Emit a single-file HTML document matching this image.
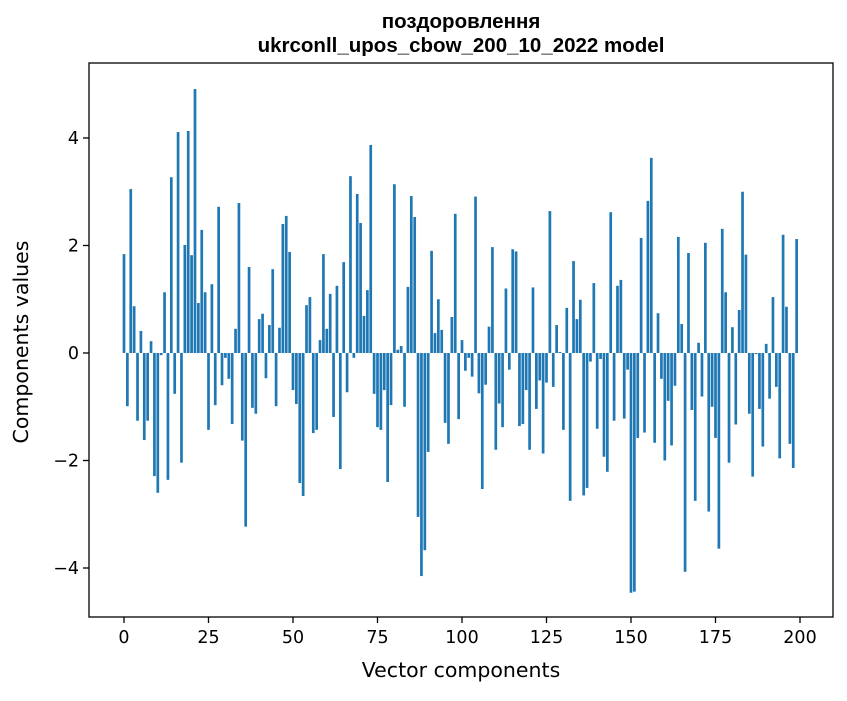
<!DOCTYPE html>
<html><head><meta charset="utf-8"><style>
body{margin:0;background:#fff;}
svg text{font-family:"DejaVu Sans","Liberation Sans",sans-serif;fill:#000;}
svg text.title{font-family:"Liberation Sans","DejaVu Sans",sans-serif;}
</style></head><body>
<svg id="chart" width="847" height="696" viewBox="0 0 847 696" xmlns="http://www.w3.org/2000/svg">
<rect width="847" height="696" fill="#fff"/>
<text class="title" x="461" y="28" text-anchor="middle" font-size="20.5" font-weight="bold">поздоровлення</text>
<text class="title" x="461" y="52" text-anchor="middle" font-size="20.5" font-weight="bold">ukrconll_upos_cbow_200_10_2022 model</text>
<g id="bars"></g>
<g id="xticks"></g>
<g id="yticks"></g>
<rect x="89" y="63" width="744" height="554" fill="none" stroke="#000" stroke-width="1.3"/>
<text x="461" y="677" text-anchor="middle" font-size="20.5">Vector components</text>
<text transform="translate(28,342) rotate(-90)" text-anchor="middle" font-size="20.5">Components values</text>
</svg>
<script>
const values = [1.84,-0.99,3.05,0.87,-1.26,0.41,-1.62,-1.26,0.22,-2.29,-2.60,-0.04,1.13,-2.36,3.27,-0.76,4.11,-2.04,2.01,4.13,
1.82,4.91,0.93,2.29,1.13,-1.43,1.28,-0.97,2.72,-0.60,-0.09,-0.48,-1.32,0.45,2.79,-1.63,-3.23,1.60,-1.02,-1.13,
0.63,0.73,-0.47,0.52,1.56,-0.99,0.47,2.40,2.55,1.88,-0.69,-0.95,-2.42,-2.66,0.89,1.04,-1.49,-1.43,0.24,1.84,
0.45,1.10,-1.19,1.25,-2.16,1.69,-0.73,3.29,-0.09,2.96,2.42,0.69,1.17,3.87,-0.76,-1.38,-1.43,-0.69,-2.40,-0.97,
3.14,0.06,0.13,-1.00,1.23,2.92,2.53,-3.05,-4.15,-3.67,-1.84,1.90,0.37,1.00,0.43,-1.30,-1.69,0.67,2.59,-1.23,
0.24,-0.33,-0.09,-0.44,2.91,-0.75,-2.53,-0.59,0.49,1.97,-1.80,-0.94,-1.38,1.20,-0.31,1.93,1.89,-1.36,-1.32,-0.69,
-1.80,1.22,-1.04,-0.51,-1.87,-0.55,2.64,-0.63,0.52,0.02,-1.43,0.84,-2.75,1.71,0.63,0.99,-2.65,-2.51,-0.16,1.30,
-1.41,-0.11,-1.93,-2.21,2.62,-1.26,1.25,1.36,-1.22,-0.31,-4.46,-4.44,-1.58,2.14,-1.48,2.83,3.63,-1.67,0.74,-0.48,
-2.00,-0.89,-1.72,-0.61,2.16,0.54,-4.07,1.86,-1.06,-2.75,0.19,-0.81,2.05,-2.95,-1.00,-1.58,-3.64,2.31,1.13,-2.04,
0.48,-1.33,0.80,3.00,1.83,-1.13,-2.30,-0.02,-1.04,-1.74,0.17,-0.85,1.04,-0.63,-1.96,2.20,0.86,-1.69,-2.14,2.12];
const xTickValues = [0,25,50,75,100,125,150,175,200];
const yTickValues = [-4,-2,0,2,4];
const yTickLabels = ["\u22124","\u22122","0","2","4"];

const NS="http://www.w3.org/2000/svg";
function xScale(v){return 124 + v*3.38;}
function yScale(v){return 353 - v*53.75;}
const barsG=document.getElementById('bars');
values.forEach((v,i)=>{
  const r=document.createElementNS(NS,'rect');
  const y0=yScale(0), y1=yScale(v);
  r.setAttribute('x', xScale(i)-1.35);
  r.setAttribute('width', 2.7);
  r.setAttribute('y', Math.min(y0,y1));
  r.setAttribute('height', Math.abs(y1-y0));
  r.setAttribute('fill','#1f77b4');
  
  
  barsG.appendChild(r);
});
const xg=document.getElementById('xticks');
xTickValues.forEach(t=>{
  const x=xScale(t);
  const l=document.createElementNS(NS,'line');
  l.setAttribute('x1',x);l.setAttribute('x2',x);l.setAttribute('y1',617);l.setAttribute('y2',623);
  l.setAttribute('stroke','#000');l.setAttribute('stroke-width','1.3');
  
  
  xg.appendChild(l);
  const tx=document.createElementNS(NS,'text');
  tx.setAttribute('x',x);tx.setAttribute('y',643);tx.setAttribute('text-anchor','middle');tx.setAttribute('font-size','17.5');
  tx.textContent=t;
  
  
  xg.appendChild(tx);
});
const yg=document.getElementById('yticks');
yTickValues.forEach((t,i)=>{
  const y=yScale(t);
  const l=document.createElementNS(NS,'line');
  l.setAttribute('x1',83);l.setAttribute('x2',89);l.setAttribute('y1',y);l.setAttribute('y2',y);
  l.setAttribute('stroke','#000');l.setAttribute('stroke-width','1.3');
  
  
  yg.appendChild(l);
  const tx=document.createElementNS(NS,'text');
  tx.setAttribute('x',79);tx.setAttribute('y',y+6);tx.setAttribute('text-anchor','end');tx.setAttribute('font-size','17.5');
  tx.textContent=yTickLabels[i];
  
  
  yg.appendChild(tx);
});
</script>
</body></html>
